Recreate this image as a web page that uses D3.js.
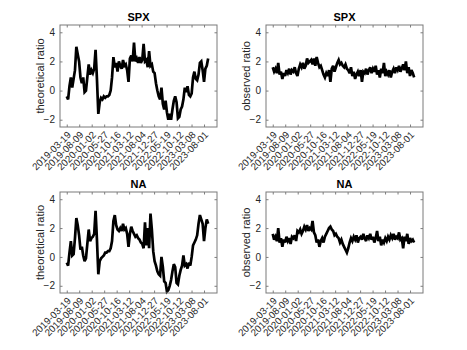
<!DOCTYPE html>
<html><head><meta charset="utf-8">
<script src="https://cdn.jsdelivr.net/npm/d3@7"></script>
<style>body{margin:0;background:#fff} svg{display:block}</style>
</head><body>
<script>
// x tick labels (trading-day index every 100 days)
const dateLabels = ["2019-03-19","2019-08-09","2020-01-02","2020-05-27","2020-10-16","2021-03-12",
  "2021-08-04","2021-12-27","2022-05-19","2022-10-12","2023-03-08","2023-08-01"];
const tickIndex = [0,100,200,300,400,500,600,700,800,900,1000,1100];
const yTicks = [-2,0,2,4];
const sampleStep = 11; // trading days between stored samples

const spxTheoretical = [-0.4,-0.6,0.3,0.9,0.2,0.8,1.4,3.0,2.5,2.0,
  0.9,0.5,0.9,-0.1,0.0,0.9,1.8,1.1,1.4,1.2,
  1.5,2.8,0.8,-1.6,-0.8,-0.5,-0.6,-0.4,-0.5,-0.4,
  -0.4,-0.3,0.0,0.9,2.3,1.6,1.9,1.3,2.0,1.7,
  1.5,2.1,1.7,1.8,1.4,0.6,2.2,2.4,2.0,3.3,
  2.0,2.2,1.9,2.3,1.9,2.1,3.2,2.0,2.1,1.6,
  2.7,1.7,1.8,1.3,1.2,0.5,0.0,-0.4,-0.6,0.2,
  -0.9,-1.3,-0.7,-1.5,-2.0,-1.6,-2.0,-1.3,-0.7,-0.4,
  -0.8,-1.9,-1.8,-1.3,-1.1,-0.6,0.2,-0.1,0.3,-0.3,
  -0.4,-0.2,0.9,1.3,0.8,0.7,1.1,1.9,2.0,1.4,
  0.6,1.5,1.7,2.2];

const spxObserved = [1.6,1.3,1.5,1.2,1.9,1.1,1.3,0.8,1.2,1.0,
  1.4,1.2,1.5,1.1,1.4,1.3,1.6,1.2,1.0,1.5,
  1.8,1.6,1.9,1.5,1.7,2.2,1.9,2.0,2.1,1.8,
  2.2,1.7,2.3,1.9,1.6,1.7,1.4,1.1,0.9,1.2,
  1.0,1.4,0.6,1.5,1.7,1.3,1.6,1.9,2.1,1.8,
  1.9,1.7,1.6,1.8,1.5,1.4,1.2,1.6,1.0,1.3,
  0.8,1.1,1.3,1.0,1.4,0.6,1.3,1.2,1.5,1.1,
  1.4,1.6,1.2,1.5,1.3,1.7,1.1,1.4,0.9,1.5,
  1.2,1.9,1.0,1.3,1.1,1.4,0.9,1.3,1.5,1.2,
  1.6,1.4,1.7,1.3,1.5,1.8,1.4,2.0,1.2,1.6,
  1.0,1.4,1.2,0.9];

const naTheoretical = [-0.4,-0.6,0.3,1.1,0.1,0.2,1.3,2.7,2.2,1.5,
  0.5,0.7,0.1,-0.3,-0.1,0.9,1.9,1.1,1.3,1.4,
  1.6,3.2,1.2,-1.2,-0.3,-0.1,0.0,0.1,0.3,0.3,
  0.4,0.4,0.6,1.1,2.5,2.9,2.2,1.9,1.8,2.0,
  1.8,2.3,1.9,2.0,1.6,0.7,1.6,2.1,1.8,1.6,
  1.4,1.5,1.3,1.2,1.0,0.9,0.6,2.4,0.8,2.0,
  0.6,3.0,1.9,0.4,-0.3,-0.6,-1.0,-1.2,-1.3,0.0,
  -0.7,-1.7,-1.8,-2.4,-2.3,-2.0,-1.6,-1.0,-0.5,-0.7,
  -1.8,-1.9,-1.3,-0.9,-0.6,0.1,-0.6,-0.5,-0.8,-0.4,
  -0.6,0.0,0.8,1.0,1.2,1.5,2.3,2.9,2.6,2.3,
  1.1,2.0,2.6,2.3];

const naObserved = [1.6,1.2,1.4,1.1,2.0,1.0,1.3,0.7,1.2,1.0,
  1.4,1.1,1.3,0.9,1.4,1.3,1.5,1.1,1.8,1.7,
  1.9,1.6,1.8,2.1,1.9,2.2,1.8,2.0,1.9,2.5,
  1.7,1.5,1.0,1.2,0.7,1.1,1.3,1.0,1.4,1.6,
  1.8,2.0,2.1,1.9,1.8,1.5,1.6,1.4,1.3,1.0,
  1.2,0.9,0.7,0.5,0.3,0.6,1.0,1.3,1.1,1.4,
  1.2,1.5,1.0,1.3,1.4,1.2,1.6,1.3,1.1,1.5,
  1.3,1.6,1.2,1.4,1.0,1.3,1.8,1.1,1.4,0.8,
  1.2,1.0,1.3,1.1,1.4,1.2,1.5,1.3,1.6,1.2,
  1.4,1.3,1.7,1.2,1.3,0.6,1.4,1.1,1.6,0.9,
  1.3,1.1,1.2,1.0];

const W = 467, H = 350;
const FONT = "'Liberation Sans', Arial, Helvetica, sans-serif";
const AXC = "#262626";
const svg = d3.select("body").append("svg").attr("width", W).attr("height", H)
  .style("font-family", FONT);

const boxW = 157;
const panels = [
  {title: "SPX", ylabel: "theoretical ratio", data: spxTheoretical, left: 60, top: 25, bottom: 127},
  {title: "SPX", ylabel: "observed ratio", data: spxObserved, left: 266, top: 25, bottom: 127},
  {title: "NA", ylabel: "theoretical ratio", data: naTheoretical, left: 60, top: 192, bottom: 293},
  {title: "NA", ylabel: "observed ratio", data: naObserved, left: 266, top: 192, bottom: 293}
];

panels.forEach(p => {
  const right = p.left + boxW;
  const x = d3.scaleLinear().domain([-54, 1204]).range([p.left, right]);
  const y = d3.scaleLinear().domain([-2.5, 4.5]).range([p.bottom, p.top]);
  const g = svg.append("g");

  const line = d3.line().x((d, i) => x(i * sampleStep)).y(d => y(d));
  g.append("path").datum(p.data).attr("d", line)
    .attr("fill", "none").attr("stroke", "#000").attr("stroke-width", 2.7)
    .attr("stroke-linejoin", "miter").attr("stroke-miterlimit", 3);

  // bottom axis
  const gb = g.append("g").attr("transform", `translate(0,${p.bottom})`)
    .call(d3.axisBottom(x).tickValues(tickIndex).tickSizeInner(-2.5).tickSizeOuter(0)
      .tickFormat((d, i) => dateLabels[i]));
  gb.select(".domain").remove();
  gb.selectAll("text").attr("y", 0).attr("dy", "0.35em")
    .attr("transform", "translate(2,6) rotate(-45)")
    .attr("text-anchor", "end").attr("fill", AXC)
    .style("font-size", "9.8px").style("font-family", FONT);

  // top axis (ticks only)
  const gt = g.append("g").attr("transform", `translate(0,${p.top})`)
    .call(d3.axisTop(x).tickValues(tickIndex).tickSizeInner(-2.5).tickSizeOuter(0).tickFormat(""));
  gt.select(".domain").remove();

  // left axis
  const gl = g.append("g").attr("transform", `translate(${p.left},0)`)
    .call(d3.axisLeft(y).tickValues(yTicks).tickSizeInner(-2.5).tickSizeOuter(0)
      .tickPadding(5).tickFormat(d3.format("d")));
  gl.select(".domain").remove();
  gl.selectAll("text").attr("fill", AXC).style("font-size", "10px").style("font-family", FONT);

  // right axis (ticks only)
  const gr = g.append("g").attr("transform", `translate(${right},0)`)
    .call(d3.axisRight(y).tickValues(yTicks).tickSizeInner(-2.5).tickSizeOuter(0).tickFormat(""));
  gr.select(".domain").remove();

  g.selectAll(".tick line").attr("stroke", AXC).attr("stroke-width", 0.6);

  // box
  g.append("rect").attr("x", p.left).attr("y", p.top)
    .attr("width", boxW).attr("height", p.bottom - p.top)
    .attr("fill", "none").attr("stroke", "#7a7a7a").attr("stroke-width", 1);

  // title
  g.append("text").attr("x", (p.left + right) / 2).attr("y", p.top - 4)
    .attr("text-anchor", "middle").attr("fill", "#000")
    .style("font-size", "11px").style("font-weight", "bold").text(p.title);

  // y label
  g.append("text")
    .attr("transform", `translate(${p.left - 20},${(p.top + p.bottom) / 2}) rotate(-90)`)
    .attr("text-anchor", "middle").attr("dy", "0.35em").attr("fill", AXC)
    .style("font-size", "11px").text(p.ylabel);
});
</script>
</body></html>
